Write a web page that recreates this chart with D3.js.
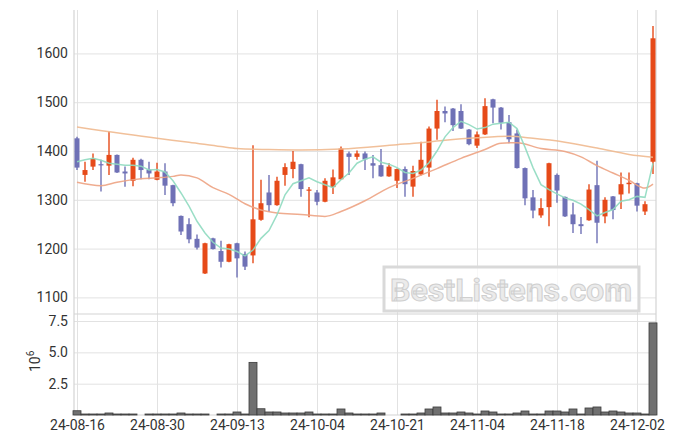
<!DOCTYPE html>
<html><head><meta charset="utf-8">
<script src="https://cdn.jsdelivr.net/npm/d3@7"></script>
<style>
body{margin:0;background:#fff}
svg{display:block}
text{font-family:Roboto,"Noto Sans",sans-serif}
</style>
</head><body>
<svg id="c" width="675" height="444"></svg>
<script>
// ---- data ----
const dates = [
 "24-08-16","24-08-19","24-08-20","24-08-21","24-08-22","24-08-23","24-08-26","24-08-27","24-08-28","24-08-29",
 "24-08-30","24-09-02","24-09-03","24-09-04","24-09-05","24-09-06","24-09-09","24-09-10","24-09-11","24-09-12",
 "24-09-13","24-09-19","24-09-20","24-09-23","24-09-24","24-09-25","24-09-26","24-09-27","24-09-30","24-10-02",
 "24-10-04","24-10-07","24-10-08","24-10-10","24-10-11","24-10-14","24-10-15","24-10-16","24-10-17","24-10-18",
 "24-10-21","24-10-22","24-10-23","24-10-24","24-10-25","24-10-28","24-10-29","24-10-30","24-10-31","24-11-01",
 "24-11-04","24-11-05","24-11-06","24-11-07","24-11-08","24-11-11","24-11-12","24-11-13","24-11-14","24-11-15",
 "24-11-18","24-11-19","24-11-20","24-11-21","24-11-22","24-11-25","24-11-26","24-11-27","24-11-28","24-11-29",
 "24-12-02","24-12-03","24-12-04"];
const open = [
 1426,1351,1368,1373,1370,1392,1358,1339,1382,1362,
 1341,1358,1330,1267,1250,1220,1149,1221,1195,1173,
 1211,1189,1186,1259,1315,1289,1351,1363,1373,1319,
 1315,1296,1326,1342,1395,1388,1395,1375,1371,1348,
 1339,1363,1327,1352,1366,1446,1482,1487,1482,1444,
 1411,1434,1506,1489,1459,1436,1365,1305,1268,1285,
 1351,1306,1270,1250,1258,1330,1266,1307,1311,1332,
 1334,1276,1378];
const high = [
 1429,1378,1395,1382,1440,1393,1368,1386,1384,1378,
 1376,1375,1331,1268,1262,1229,1212,1222,1216,1210,
 1212,1194,1412,1341,1351,1347,1375,1400,1374,1326,
 1320,1344,1362,1409,1399,1401,1399,1392,1404,1375,
 1364,1368,1370,1419,1450,1505,1491,1488,1496,1445,
 1440,1508,1507,1490,1474,1444,1366,1320,1303,1376,
 1354,1307,1294,1265,1332,1380,1305,1308,1356,1356,
 1335,1297,1656];
const low = [
 1361,1337,1361,1317,1351,1355,1327,1328,1342,1342,
 1340,1310,1287,1228,1211,1198,1148,1198,1161,1172,
 1141,1156,1170,1257,1275,1288,1329,1344,1306,1264,
 1289,1295,1312,1341,1351,1382,1361,1344,1347,1347,
 1324,1306,1306,1350,1347,1423,1459,1441,1445,1412,
 1406,1433,1457,1444,1416,1364,1289,1262,1263,1246,
 1294,1265,1232,1230,1257,1211,1252,1260,1281,1313,
 1276,1269,1353];
const close = [
 1366,1361,1384,1371,1392,1356,1354,1382,1361,1354,
 1358,1329,1293,1235,1219,1202,1211,1199,1173,1209,
 1180,1163,1260,1293,1289,1339,1367,1378,1322,1321,
 1296,1339,1346,1405,1388,1395,1383,1370,1348,1368,
 1363,1332,1359,1382,1446,1482,1477,1453,1446,1414,
 1434,1492,1489,1458,1424,1365,1303,1278,1283,1375,
 1319,1266,1250,1246,1321,1253,1300,1279,1332,1335,
 1288,1291,1631];
const volume = [
 340000,80000,80000,80000,160000,80000,80000,80000,0,80000,
 80000,80000,80000,160000,80000,80000,80000,0,80000,80000,
 240000,80000,4200000,500000,240000,240000,160000,160000,160000,240000,
 80000,80000,80000,480000,160000,80000,80000,80000,160000,0,
 0,80000,80000,160000,480000,640000,160000,160000,240000,160000,
 80000,320000,240000,80000,80000,160000,320000,80000,80000,320000,
 320000,240000,480000,80000,560000,640000,240000,320000,240000,160000,
 160000,80000,7350000];
// short moving average (green), one value per day
const maShort = [
 1378,1382,1385,1381,1375,1373,1371,1371,1369,1361,
 1362,1357,1339,1314,1287,1256,1232,1213,1201,1199,
 1194,1185,1197,1221,1237,1269,1310,1333,1339,1345,
 1337,1331,1325,1341,1355,1375,1383,1388,1377,1373,
 1366,1356,1354,1361,1376,1400,1429,1448,1461,1454,
 1445,1448,1455,1457,1459,1446,1408,1366,1331,1321,
 1312,1304,1299,1291,1280,1267,1274,1280,1297,1300,
 1307,1305,1375];
// medium moving average (salmon), read at sampled days
const maMidDay = [0,3,5,8,10,12,13,15,17,19,21,23,25,28,31,33,36,39,42,45,48,51,53,55,58,61,63,65,67,69,71,72];
const maMidVal = [1336,1329,1336,1343,1345,1348,1351,1345,1325,1311,1292,1279,1273,1270,1266,1276,1298,1325,1344,1364,1385,1403,1416,1417,1405,1399,1388,1370,1355,1340,1324,1332];
// long moving average (peach), read at sampled days
const maLongDay = [0,10,14,18,20,24,28,33,40,43,46,50,54,57,61,65,69,72];
const maLongVal = [1449,1426,1418,1409,1405,1403,1402,1404,1413,1417,1422,1427,1430,1426,1418,1406,1393,1387];
const priceTicks = [1100,1200,1300,1400,1500,1600];
const volTicks = [2500000,5000000,7500000];
const dateTicks = ["24-08-16","24-08-30","24-09-13","24-10-04","24-10-21","24-11-04","24-11-18","24-12-02"];

// ---- layout ----
const L = 74, R = 656, T = 10, PB = 314, VB = 415;
const upColor = "#e64a19", downColor = "#6f71b6";
const svg = d3.select("#c");

const x = d3.scalePoint().domain(dates).range([77, 653]);
const y = d3.scaleLinear().domain([1068, 1689]).range([313, T]);
const yv = d3.scaleLinear().domain([0, 8060000]).range([VB, PB]);

// grid + axes
const gx = svg.append("g").attr("transform", `translate(0,${VB})`)
  .call(d3.axisBottom(x).tickValues(dateTicks).tickSizeInner(-(VB - T)).tickSizeOuter(0).tickPadding(5));
const gy = svg.append("g").attr("transform", `translate(${L},0)`)
  .call(d3.axisLeft(y).tickValues(priceTicks).tickSizeInner(-(R - L)).tickSizeOuter(0).tickPadding(6).tickFormat(d3.format("d")));
const gv = svg.append("g").attr("transform", `translate(${L},0)`)
  .call(d3.axisLeft(yv).tickValues(volTicks).tickSizeInner(-(R - L)).tickSizeOuter(0).tickPadding(6).tickFormat(d => (d / 1e6).toFixed(1)));
[gx, gy, gv].forEach(g => {
  g.select(".domain").remove();
  g.selectAll(".tick line").attr("stroke", "#e2e2e2").attr("stroke-width", 1);
  g.selectAll(".tick text").attr("fill", "#333").style("font-size", "14px");
});

// frame
const frame = svg.append("g").attr("stroke", "#d4d4d4").attr("stroke-width", 1.2).attr("fill", "none");
frame.append("line").attr("x1", L).attr("x2", L).attr("y1", T).attr("y2", VB);
frame.append("line").attr("x1", R).attr("x2", R).attr("y1", T).attr("y2", VB);
frame.append("line").attr("x1", L).attr("x2", R).attr("y1", PB).attr("y2", PB);
frame.append("line").attr("x1", L).attr("x2", R).attr("y1", VB).attr("y2", VB);

// watermark
const wm = svg.append("g");
wm.append("rect").attr("x", 384).attr("y", 267).attr("width", 255).attr("height", 44)
  .attr("fill", "rgba(255,255,255,0.75)").attr("stroke", "#d9d9d9").attr("stroke-width", 3);
wm.append("text").attr("x", 511).attr("y", 301).attr("text-anchor", "middle")
  .attr("textLength", 242).attr("lengthAdjust", "spacingAndGlyphs")
  .style("font-size", "32px").style("font-weight", "bold")
  .attr("fill", "#ebebeb").attr("stroke", "#cfcfcf").attr("stroke-width", 1).text("BestListens.com");

// volume bars
const bw = 8;
svg.append("g").selectAll("rect").data(dates).join("rect")
  .attr("x", d => x(d) - bw / 2)
  .attr("y", (d, i) => yv(volume[i]))
  .attr("width", bw)
  .attr("height", (d, i) => VB - yv(volume[i]))
  .attr("fill", "#707070").attr("stroke", "#3c3c3c").attr("stroke-width", 0.8);

// candles
const cg = svg.append("g");
const col = i => close[i] >= open[i] ? upColor : downColor;
cg.selectAll("line").data(dates).join("line")
  .attr("x1", d => x(d)).attr("x2", d => x(d))
  .attr("y1", (d, i) => y(high[i])).attr("y2", (d, i) => y(low[i]))
  .attr("stroke", (d, i) => col(i)).attr("stroke-width", 1.4);
cg.selectAll("rect").data(dates).join("rect")
  .attr("x", d => x(d) - 2.5).attr("width", 5)
  .attr("y", (d, i) => y(Math.max(open[i], close[i])))
  .attr("height", (d, i) => Math.max(1.2, Math.abs(y(open[i]) - y(close[i]))))
  .attr("fill", (d, i) => col(i));

// moving averages
const line = d3.line().x(d => x(dates[d[0]])).y(d => y(d[1]));
svg.append("path").datum(maLongDay.map((d, i) => [d, maLongVal[i]]))
  .attr("d", line.curve(d3.curveMonotoneX)).attr("fill", "none")
  .attr("stroke", "#f0b98f").attr("stroke-width", 1.5).attr("stroke-opacity", 0.9);
svg.append("path").datum(maMidDay.map((d, i) => [d, maMidVal[i]]))
  .attr("d", line.curve(d3.curveMonotoneX)).attr("fill", "none")
  .attr("stroke", "#eda383").attr("stroke-width", 1.5).attr("stroke-opacity", 0.9);
svg.append("path").datum(maShort.map((v, i) => [i, v]))
  .attr("d", line.curve(d3.curveLinear)).attr("fill", "none")
  .attr("stroke", "#8fdac0").attr("stroke-width", 1.5).attr("stroke-opacity", 0.9);

// volume unit label
const ul = svg.append("text").attr("transform", "translate(40,372) rotate(-90)")
  .attr("fill", "#333").style("font-size", "14px");
ul.append("tspan").text("10");
ul.append("tspan").attr("dy", -6).style("font-size", "10px").text("6");
</script>
</body></html>
